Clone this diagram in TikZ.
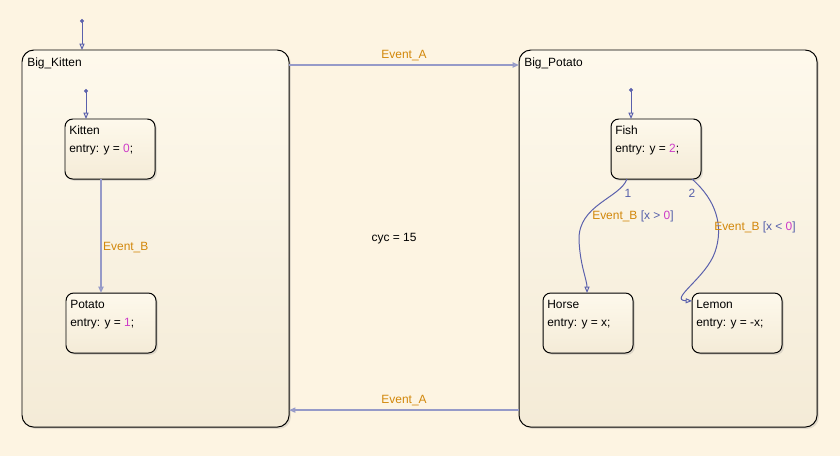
\documentclass[tikz,border=0pt]{standalone}
\usepackage{fontspec}
\setmainfont{Liberation Sans}
\usetikzlibrary{arrows.meta, calc, shadows}
\definecolor{bgcream}{RGB}{253,244,226}
\definecolor{boxtop}{RGB}{254,249,236}
\definecolor{boxbot}{RGB}{244,235,215}
\definecolor{transline}{RGB}{150,154,200}
\definecolor{transdark}{RGB}{90,96,172}
\definecolor{evorange}{RGB}{210,135,10}
\definecolor{numpink}{RGB}{205,60,200}
\definecolor{condblue}{RGB}{85,95,170}
\tikzset{
  chart/.style={draw=black, line width=0.7pt, anchor=north west, inner sep=0pt, outer sep=0pt,
    top color=boxtop, bottom color=boxbot,
    drop shadow={shadow xshift=1.3pt, shadow yshift=-1.3pt, opacity=.22}},
  superstate/.style={chart, rounded corners=8.5pt},
  substate/.style={chart, rounded corners=5.5pt, minimum width=2.25cm, minimum height=1.5cm},
  statename/.style={anchor=base west, inner sep=0pt},
  trans/.style={draw=transline, line width=1.1pt, -{Triangle[open, length=4.5pt, width=3.6pt]}},
  thintrans/.style={draw=transdark, line width=0.7pt, -{Triangle[open, length=4.5pt, width=3.6pt]}},
  deftrans/.style={draw=transdark, line width=0.7pt, {Circle[length=2.8pt]}-{Triangle[open, length=4.5pt, width=3.6pt]}},
  evlabel/.style={text=evorange, inner sep=1pt}
}
\newcommand{\nm}[1]{\textcolor{numpink}{#1}}
\newcommand{\cnd}[1]{\textcolor{condblue}{#1}}

\begin{document}
\begin{tikzpicture}[x=0.025cm, y=-0.025cm, font=\fontsize{8.5}{10}\selectfont]
\fill[bgcream] (0,0) rectangle (840,456);
\useasboundingbox (0,0) rectangle (840,456);

% super states
\node[superstate, minimum width=6.675cm, minimum height=9.425cm] (bigkitten) at (22,50) {};
\node[superstate, minimum width=7.45cm, minimum height=9.425cm] (bigpotato) at (519,50) {};
\node[statename] (bigkittenname) at ($(bigkitten.north west)+(5,16)$) {Big\_Kitten};
\node[statename] (bigpotatoname) at ($(bigpotato.north west)+(5,16)$) {Big\_Potato};

% sub states
\node[substate] (kitten) at (65,119) {};
\node[substate] (potato) at (66,293) {};
\node[substate] (fish) at (611,119) {};
\node[substate] (horse) at (543,293) {};
\node[substate] (lemon) at (692,293) {};

\node[statename] (kittenname) at ($(kitten.north west)+(4,15)$) {Kitten};
\node[statename] (kittenentry) at ($(kitten.north west)+(4,33)$) {entry: y = \nm{0};};
\node[statename] (potatoname) at ($(potato.north west)+(4,15)$) {Potato};
\node[statename] (potatoentry) at ($(potato.north west)+(4,33)$) {entry: y = \nm{1};};
\node[statename] (fishname) at ($(fish.north west)+(4,15)$) {Fish};
\node[statename] (fishentry) at ($(fish.north west)+(4,33)$) {entry: y = \nm{2};};
\node[statename] (horsename) at ($(horse.north west)+(4,15)$) {Horse};
\node[statename] (horseentry) at ($(horse.north west)+(4,33)$) {entry: y = x;};
\node[statename] (lemonname) at ($(lemon.north west)+(4,15)$) {Lemon};
\node[statename] (lemonentry) at ($(lemon.north west)+(4,33)$) {entry: y = -x;};

% default transitions
\coordinate (d0) at (82,19);
\coordinate (d1) at (86,89);
\coordinate (d2) at (631,88);
\draw[deftrans] (d0) -- (d0 |- bigkitten.north);
\draw[deftrans] (d1) -- (d1 |- kitten.north);
\draw[deftrans] (d2) -- (d2 |- fish.north);

% transitions
\draw[trans] ($(bigkitten.north east)+(0,15)$) -- ($(bigpotato.north west)+(0,15)$)
  node[midway, above=1.5pt, evlabel] (evatop) {Event\_A};
\draw[trans] ($(bigpotato.south west)+(0,-17)$) -- ($(bigkitten.south east)+(0,-17)$)
  node[midway, above=1.5pt, evlabel] (evabot) {Event\_A};
\draw[trans] ($(kitten.south west)+(36,0)$) -- ($(potato.north west)+(35,0)$)
  node[pos=.6, right, evlabel] (evb) {Event\_B};

\draw[thintrans] ($(fish.south west)+(16,0)$) .. controls (620,198) and (578,205) .. (579,240)
  .. controls (580,265) and (587,280) .. ($(horse.north west)+(44,0)$);
\draw[thintrans] ($(fish.south west)+(81,0)$) .. controls (716,200) and (724,226) .. (715,252)
  .. controls (706,278) and (668,300) .. ($(lemon.north west)+(0,8)$);

\node[text=condblue] (prio1) at (628,193) {1};
\node[text=condblue] (prio2) at (692,193) {2};
\node[anchor=west, inner sep=0pt] (cond1) at (592,216) {\textcolor{evorange}{Event\_B} \cnd{[x > \nm{0}]}};
\node[anchor=west, inner sep=0pt] (cond2) at (714,227) {\textcolor{evorange}{Event\_B} \cnd{[x < \nm{0}]}};

\node (cyc) at (394,239) {cyc = 15};
\end{tikzpicture}
\end{document}
